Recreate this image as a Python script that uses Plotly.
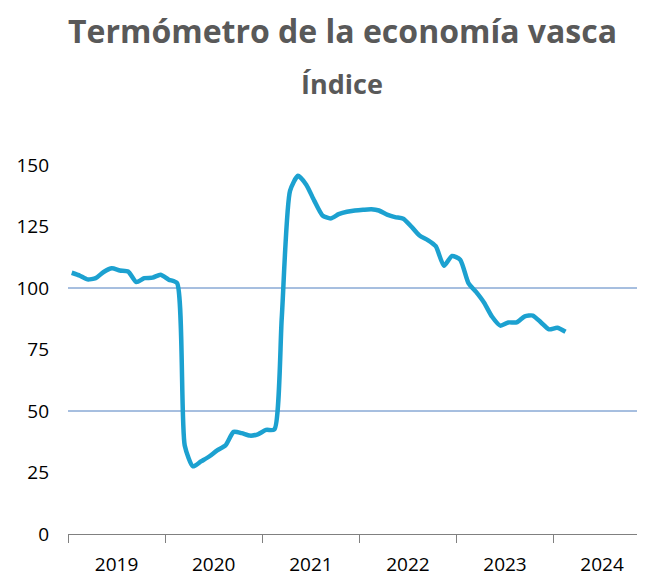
import plotly.graph_objects as go
import pandas as pd

# Monthly index values (mid-month), Jan 2019 - Feb 2024
start_month = "2019-01-01"
values = [
    106.2, 105.0, 103.5, 104.0, 106.5, 108.0, 107.1, 106.7, 102.4, 104.0, 104.2, 105.4,   # 2019
    103.4, 102.0, 36.0, 27.5, 29.5, 31.5, 34.0, 36.0, 41.5, 41.0, 40.0, 40.5,             # 2020
    42.3, 42.5, 88.0, 139.5, 145.6, 142.0, 135.5, 129.5, 128.3, 130.0, 131.0, 131.5,      # 2021
    131.8, 132.0, 131.5, 129.8, 128.8, 128.2, 125.0, 121.3, 119.5, 117.0, 109.0, 113.0,   # 2022
    111.5, 102.0, 98.5, 94.0, 88.3, 84.7, 86.0, 86.0, 88.5, 88.8, 86.0, 83.2,             # 2023
    83.8, 82.2,                                                                           # 2024
]
dates = pd.date_range(start=start_month, periods=len(values), freq="MS") + pd.Timedelta(days=14)

y_ticks = [0, 25, 50, 75, 100, 125, 150]
reference_lines = [50, 100]
title_text = "Termómetro de la economía vasca"
subtitle_text = "Índice"

fig = go.Figure()
fig.add_trace(go.Scatter(
    x=dates, y=values, mode="lines",
    line=dict(color="#1ca1d0", width=4.5, shape="spline", smoothing=0.6),
    hoverinfo="skip",
))

for v in reference_lines:
    fig.add_shape(type="line", xref="paper", x0=0, x1=1.014, yref="y", y0=v, y1=v,
                  line=dict(color="#4f7fc0", width=1), layer="below")

fig.update_layout(
    width=645, height=577,
    margin=dict(l=56, r=8, t=157, b=43),
    paper_bgcolor="white", plot_bgcolor="white",
    showlegend=False,
    font=dict(family="Open Sans", color="#000000"),
    annotations=[
        dict(text=f"<b>{title_text}</b>", xref="paper", yref="paper", x=0.475, y=1.0,
             yshift=135, showarrow=False, xanchor="center", yanchor="middle",
             font=dict(family="Open Sans", size=32, color="#595959")),
        dict(text=f"<b>{subtitle_text}</b>", xref="paper", yref="paper", x=0.475, y=1.0,
             yshift=82, showarrow=False, xanchor="center", yanchor="middle",
             font=dict(family="Open Sans", size=27, color="#595959")),
    ],
)

fig.update_yaxes(
    range=[0, 150], tickvals=y_ticks, showgrid=False, zeroline=False,
    showline=False, ticks="", ticklabelstandoff=18,
    tickfont=dict(family="Open Sans", size=19, color="#000000"),
)
fig.update_xaxes(
    type="date", range=["2019-01-01", "2024-12-10"],
    tick0="2019-01-01", dtick="M12", tickformat="%Y", ticklabelmode="period",
    ticks="outside", ticklen=8, tickcolor="#808080", tickwidth=1,
    showline=True, linecolor="#808080", linewidth=1, showgrid=False, zeroline=False,
    ticklabelstandoff=5,
    tickfont=dict(family="Open Sans", size=19, color="#000000"),
)

fig.write_html("out.html")
